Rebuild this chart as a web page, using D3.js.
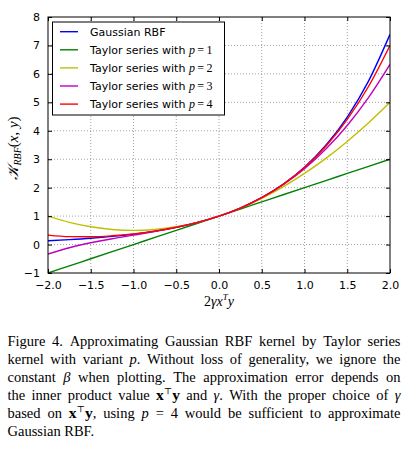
<!DOCTYPE html>
<html>
<head>
<meta charset="UTF-8">
<title>Taylor series kernel</title>
<style>
  body { margin: 0; background: #fff; }
  text { font-family: "DejaVu Sans", sans-serif; }
  .serif { font-family: "Liberation Serif", "DejaVu Serif", serif; }
</style>
</head>
<body>
<div id="chart"></div>
<script src="https://cdn.jsdelivr.net/npm/d3@7"></script>
<script>
// x positions (2*gamma*x^T y) and kernel values
const xs       = [-2, -1.75, -1.5, -1.25, -1, -0.75, -0.5, -0.25, 0, 0.25, 0.5, 0.75, 1, 1.25, 1.5, 1.75, 2];
const gaussian = [0.135, 0.174, 0.223, 0.287, 0.368, 0.472, 0.607, 0.779, 1, 1.284, 1.649, 2.117, 2.718, 3.49, 4.482, 5.755, 7.389];
const taylorP1 = [-1, -0.75, -0.5, -0.25, 0, 0.25, 0.5, 0.75, 1, 1.25, 1.5, 1.75, 2, 2.25, 2.5, 2.75, 3];
const taylorP2 = [1, 0.781, 0.625, 0.531, 0.5, 0.531, 0.625, 0.781, 1, 1.281, 1.625, 2.031, 2.5, 3.031, 3.625, 4.281, 5];
const taylorP3 = [-0.333, -0.112, 0.063, 0.206, 0.333, 0.461, 0.604, 0.779, 1, 1.284, 1.646, 2.102, 2.667, 3.357, 4.188, 5.174, 6.333];
const taylorP4 = [0.333, 0.279, 0.273, 0.308, 0.375, 0.474, 0.607, 0.779, 1, 1.284, 1.648, 2.115, 2.708, 3.459, 4.398, 5.565, 7];

const seriesNames = ["Gaussian RBF", "Taylor series with ", "Taylor series with ", "Taylor series with ", "Taylor series with "];
const seriesP = [null, 1, 2, 3, 4];
const seriesColors = ["#0000ff", "#008000", "#bfbf00", "#bf00bf", "#ff0000"];
const seriesValues = [gaussian, taylorP1, taylorP2, taylorP3, taylorP4];

const xTicks = [-2, -1.5, -1, -0.5, 0, 0.5, 1, 1.5, 2];
const yTicks = [-1, 0, 1, 2, 3, 4, 5, 6, 7, 8];

const W = 409, H = 449;
const pLeft = 48, pRight = 390, pTop = 17, pBottom = 273;

const svg = d3.select("#chart").append("svg")
    .attr("width", W)
    .attr("height", H);
svg.append("rect").attr("width", W).attr("height", H).attr("fill", "#fff");

const x = d3.scaleLinear().domain([-2, 2]).range([pLeft, pRight]);
const y = d3.scaleLinear().domain([-1, 8]).range([pBottom, pTop]);

const fmtX = d => (d < 0 ? "\u2212" : "") + Math.abs(d).toFixed(1);
const fmtY = d => (d < 0 ? "\u2212" : "") + Math.abs(d);

// dotted grid
svg.append("g").selectAll("line").data(xTicks.slice(1, -1)).enter().append("line")
    .attr("x1", d => x(d)).attr("x2", d => x(d))
    .attr("y1", pTop).attr("y2", pBottom)
    .attr("stroke", "#888").attr("stroke-width", 0.8).attr("stroke-dasharray", "1,2");
svg.append("g").selectAll("line").data(yTicks.slice(1, -1)).enter().append("line")
    .attr("y1", d => y(d)).attr("y2", d => y(d))
    .attr("x1", pLeft).attr("x2", pRight)
    .attr("stroke", "#888").attr("stroke-width", 0.8).attr("stroke-dasharray", "1,2");

// curves
const line = d3.line()
    .x((d, i) => x(xs[i]))
    .y(d => y(d))
    .curve(d3.curveMonotoneX);

svg.append("defs").append("clipPath").attr("id", "clip")
    .append("rect").attr("x", pLeft).attr("y", pTop).attr("width", pRight - pLeft).attr("height", pBottom - pTop);

svg.append("g").attr("clip-path", "url(#clip)")
    .selectAll("path").data(seriesValues).enter().append("path")
    .attr("d", d => line(d))
    .attr("fill", "none")
    .attr("stroke", (d, i) => seriesColors[i])
    .attr("stroke-width", 1.4);

// axes: ticks pointing inward on all four sides
const axB = svg.append("g").attr("transform", `translate(0,${pBottom})`)
    .call(d3.axisBottom(x).tickValues(xTicks).tickFormat(fmtX).tickSizeInner(-4).tickSizeOuter(0).tickPadding(8));
const axT = svg.append("g").attr("transform", `translate(0,${pTop})`)
    .call(d3.axisTop(x).tickValues(xTicks).tickFormat("").tickSizeInner(-4).tickSizeOuter(0));
const axL = svg.append("g").attr("transform", `translate(${pLeft},0)`)
    .call(d3.axisLeft(y).tickValues(yTicks).tickFormat(fmtY).tickSizeInner(-4).tickSizeOuter(0).tickPadding(8));
const axR = svg.append("g").attr("transform", `translate(${pRight},0)`)
    .call(d3.axisRight(y).tickValues(yTicks).tickFormat("").tickSizeInner(-4).tickSizeOuter(0));
[axB, axT, axL, axR].forEach(a => {
    a.select(".domain").remove();
    a.selectAll("text").attr("font-family", "DejaVu Sans, sans-serif").attr("font-size", 11).attr("fill", "#000");
    a.selectAll("line").attr("stroke", "#000");
});
svg.append("rect").attr("x", pLeft).attr("y", pTop).attr("width", pRight - pLeft).attr("height", pBottom - pTop)
    .attr("fill", "none").attr("stroke", "#000").attr("stroke-width", 1);

// legend
const lg = svg.append("g");
lg.append("rect").attr("x", 52.5).attr("y", 22).attr("width", 172).attr("height", 93)
    .attr("fill", "#fff").attr("stroke", "#000").attr("stroke-width", 1);
const rows = lg.selectAll("g.row").data(seriesNames).enter().append("g")
    .attr("transform", (d, i) => `translate(0,${31.7 + i * 18.1})`);
rows.append("line").attr("x1", 60).attr("x2", 78).attr("y1", 0).attr("y2", 0)
    .attr("stroke", (d, i) => seriesColors[i]).attr("stroke-width", 1.4);
const rt = rows.append("text").attr("x", 90).attr("y", 4).attr("font-size", 11).attr("fill", "#000");
rt.append("tspan").text(d => d);
rt.each(function (d, i) {
    if (seriesP[i] === null) return;
    const t = d3.select(this);
    t.append("tspan").attr("class", "serif").attr("font-style", "italic").attr("font-size", 12).text("p");
    t.append("tspan").attr("class", "serif").attr("font-size", 12).text("\u2009=\u2009" + seriesP[i]);
});

// axis titles
svg.append("text").attr("class", "serif")
    .attr("x", 219).attr("y", 306).attr("text-anchor", "middle").attr("font-size", 14)
    .call(t => {
        t.append("tspan").text("2");
        t.append("tspan").attr("font-style", "italic").text("\u03b3x");
        t.append("tspan").attr("font-style", "italic").attr("font-size", 9).attr("dy", -6).text("T");
        t.append("tspan").attr("font-style", "italic").attr("dy", 6).text("y");
    });

svg.append("text").attr("class", "serif")
    .attr("transform", "translate(18,148) rotate(-90)")
    .attr("text-anchor", "middle").attr("font-size", 15)
    .call(t => {
        t.append("tspan").attr("font-style", "italic").text("\ud835\udca6");
        t.append("tspan").attr("font-style", "italic").attr("font-size", 10).attr("dy", 3).text("RBF");
        t.append("tspan").attr("dy", -3).text("(");
        t.append("tspan").attr("font-style", "italic").text("x");
        t.append("tspan").text(", ");
        t.append("tspan").attr("font-style", "italic").text("y");
        t.append("tspan").text(")");
    });

// caption, justified line by line
const captionLines = [
    [["Figure 4. Approximating Gaussian RBF kernel by Taylor series"]],
    [["kernel with variant "], ["p", "i"], [". Without loss of generality, we ignore the"]],
    [["constant "], ["\u03b2", "i"], [" when plotting. The approximation error depends on"]],
    [["the inner product value "], ["x", "b"], ["\u22a4", "sup"], ["y", "b2"], [" and "], ["\u03b3", "i"], [". With the proper choice of "], ["\u03b3", "i"]],
    [["based on "], ["x", "b"], ["\u22a4", "sup"], ["y", "b2"], [", using "], ["p", "i"], [" = 4 would be sufficient to approximate"]],
    [["Gaussian RBF."]]
];
const capLeft = 7.5, capRight = 400.5, capFont = 14.5;
captionLines.forEach((segs, li) => {
    // split into words, keeping the style of each piece
    const words = [];
    let cur = [];
    segs.forEach(([s, st]) => {
        s.split(" ").forEach((p, k) => {
            if (k > 0) { if (cur.length) words.push(cur); cur = []; }
            if (p.length) cur.push([p, st]);
        });
    });
    if (cur.length) words.push(cur);
    const g = svg.append("g");
    const base = 346 + li * 18;
    const nodes = words.map(w => {
        const t = g.append("text").attr("class", "serif").attr("font-size", capFont).attr("y", base).attr("fill", "#000");
        w.forEach(([s, st]) => {
            const ts = t.append("tspan").text(s);
            if (st === "i") ts.attr("font-style", "italic");
            if (st === "b") ts.attr("font-weight", "bold").attr("font-size", capFont + 1);
            if (st === "b2") ts.attr("font-weight", "bold").attr("font-size", capFont + 1).attr("dy", 6);
            if (st === "sup") ts.attr("font-size", 9).attr("dy", -6);
        });
        return t;
    });
    const widths = nodes.map(n => n.node().getComputedTextLength());
    const total = d3.sum(widths);
    const last = li === captionLines.length - 1;
    const gap = last || nodes.length < 2 ? 3.6 : (capRight - capLeft - total) / (nodes.length - 1);
    let cx = capLeft;
    nodes.forEach((n, k) => { n.attr("x", cx); cx += widths[k] + gap; });
});
</script>
</body>
</html>
